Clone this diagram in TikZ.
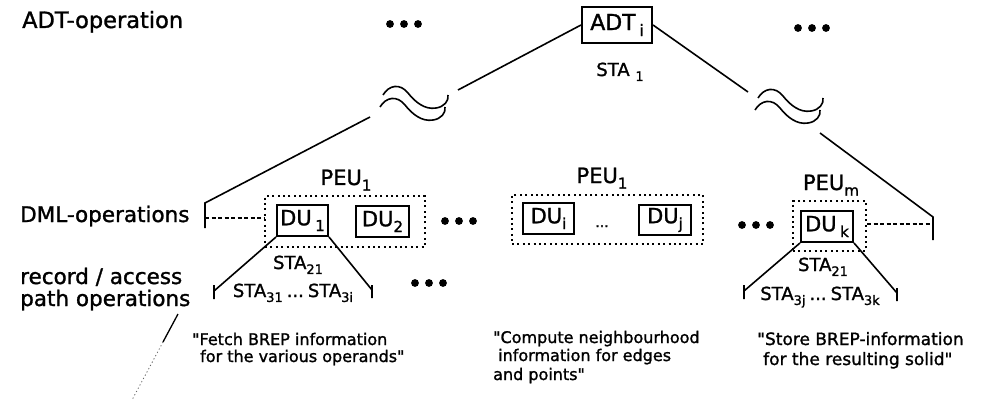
\documentclass[tikz,border=0pt]{standalone}
\usepackage{fontspec}
\setmainfont{DejaVu Sans}
\newfontfamily\dfont{DejaVu Sans}[FakeBold=1.3]
\usepackage{graphicx}
\newcommand\lsub[1]{\raisebox{-0.5ex}{\scalebox{0.72}{#1}}}
\newcommand\dq{\symbol{34}}
\tikzset{
  lbl/.style={font=\dfont\fontsize{21.5}{22}\selectfont, anchor=base west, inner sep=0},
  dubox/.style={draw, line width=2pt, minimum width=51pt, minimum height=31pt, inner sep=0, font=\dfont\fontsize{21}{21}\selectfont},
  peubox/.style={draw, line width=2pt, dash pattern=on 2pt off 3.4pt, inner sep=0},
  wire/.style={line width=1.6pt},
  dashwire/.style={line width=1.1pt, dash pattern=on 4pt off 2.5pt},
  sta/.style={font=\dfont\fontsize{18}{18}\selectfont, anchor=base, inner sep=0},
  quote/.style={font=\dfont\fontsize{16}{18}\selectfont, anchor=base west, inner sep=0},
  peu/.style={font=\dfont\fontsize{21}{21}\selectfont, anchor=base, inner sep=0},
  threedots/.pic={\fill (-14,0) circle (3.9pt) (0,0) circle (3.9pt) (14,0) circle (3.9pt);},
  brk/.pic={
    \draw[line width=1.6pt] (0,0) .. controls (6,-10) and (17,-12) .. (25,-2) .. controls (32,7) and (42,15) .. (53,13) .. controls (61,12) and (66,6) .. (65,0);
    \draw[line width=1.6pt] (-3,12) .. controls (3,2) and (14,0) .. (22,10) .. controls (29,19) and (39,27) .. (50,25) .. controls (58,24) and (63,18) .. (62,12);
  }
}
\begin{document}
\begin{tikzpicture}[x=1pt,y=-1pt]
\fill[white] (0,0) rectangle (984,406);
\useasboundingbox (0,0) rectangle (984,406);

% left labels
\node[lbl, font=\dfont\fontsize{22.5}{23}\selectfont] (tADT) at (22,28) {ADT-operation};
\node[lbl] (tDML) at (20,222) {DML-operations};
\node[lbl] (tRec) at (20,284) {record / access};
\node[lbl] (tPath) at (20,306) {path operations};

% top
\node[dubox, minimum width=70pt, minimum height=36pt, font=\dfont\fontsize{22}{22}\selectfont] (ADT) at (617,25) {ADT\,\lsub{i}};
\node[sta] (sta1) at (620,76) {STA \lsub{1}};
\pic at (404,24) {threedots};
\pic at (812,28) {threedots};

% dotted PEU boxes
\node[peubox, minimum width=160pt, minimum height=51pt] (PEUa) at (345,221.5) {};
\node[peubox, minimum width=191pt, minimum height=49pt] (PEUb) at (607.5,219.5) {};
\node[peubox, minimum width=73pt, minimum height=50pt] (PEUc) at (829.5,226) {};
\node[peu] (peuA) at (346,185) {PEU\lsub{1}};
\node[peu] (peuB) at (602,183) {PEU\lsub{1}};
\node[peu] (peuC) at (831,190) {PEU\lsub{m}};

% DU boxes
\node[dubox] (DU1) at (302.5,220.5) {DU\,\lsub{1}};
\node[dubox, minimum width=53pt] (DU2) at (382.5,221.5) {DU\lsub{2}};
\node[dubox] (DUi) at (548.5,218.5) {DU\lsub{i}};
\node[dubox, minimum width=52pt, minimum height=30pt] (DUj) at (665,220) {DU\lsub{j}};
\node[dubox, minimum width=52pt] (DUk) at (827,226.5) {DU\,\lsub{k}};
\node[anchor=base, inner sep=0, font=\dfont\fontsize{14}{14}\selectfont] (ell) at (602,227) {...};
\pic at (459,221) {threedots};
\pic at (756,225) {threedots};
\pic at (429,283) {threedots};

% left branch from ADT
\coordinate (l1e) at (458,90);
\coordinate (l2s) at (370,117);
\coordinate (tL) at (205,203);
\coordinate (tLb) at (205,228);
\coordinate (dL) at (205,218);
\draw[wire] (ADT.west) -- (l1e);
\pic at (383,95) {brk};
\draw[wire] (l2s) -- (tL) -- (tLb);
\draw[dashwire] (dL) -- (dL -| PEUa.west);

% right branch from ADT
\coordinate (r1e) at (748,92);
\coordinate (r2s) at (820,133);
\coordinate (tR) at (933,217);
\coordinate (tRb) at (933,240);
\coordinate (dR) at (933,224);
\draw[wire] (ADT.east) -- (r1e);
\pic at (758,98) {brk};
\draw[wire] (r2s) -- (tR) -- (tRb);
\draw[dashwire] (PEUc.east |- dR) -- (dR);

% record level branches
\coordinate (a1) at (214,291);
\coordinate (a2) at (372,290);
\coordinate (b1) at (744,291);
\coordinate (b2) at (897,293);
\draw[wire] (DU1.south west) -- (a1) (a1) ++(0,-6) -- ++(0,14);
\draw[wire] (DU1.south east) -- (a2) (a2) ++(0,-5) -- ++(0,13);
\draw[wire] (DUk.south west) -- (b1) (b1) ++(0,-6) -- ++(0,14);
\draw[wire] (DUk.south east) -- (b2) (b2) ++(0,-5) -- ++(0,13);

\node[sta] (sta21a) at (298,269) {STA\lsub{21}};
\node[sta] (sta21b) at (823,271) {STA\lsub{21}};
\node[sta] (sta3a) at (293,297) {STA\lsub{31}\hspace{4pt}...\hspace{4pt}STA\lsub{3i}};
\node[sta] (sta3b) at (820,300) {STA\lsub{3j}\hspace{4pt}...\hspace{4pt}STA\lsub{3k}};

% slash
\coordinate (s1) at (178,314);
\coordinate (s2) at (163,342);
\coordinate (s3) at (132,400);
\draw[line width=1.3pt] (s1) -- (s2);
\draw[black!60, line width=0.8pt, dash pattern=on 1.2pt off 2.5pt] (s2) -- (s3);

% quotes
\node[quote] (q1a) at (192,345) {\dq Fetch BREP information};
\node[quote] (q1b) at (200,362) {for the various operands\dq};
\node[quote] (q2a) at (493,343) {\dq Compute neighbourhood};
\node[quote] (q2b) at (498,361) {information for edges};
\node[quote] (q2c) at (493,380) {and points\dq};
\node[quote, font=\dfont\fontsize{17}{18}\selectfont] (q3a) at (757,345) {\dq Store BREP-information};
\node[quote, font=\dfont\fontsize{17}{18}\selectfont] (q3b) at (763,365) {for the resulting solid\dq};
\end{tikzpicture}
\end{document}
